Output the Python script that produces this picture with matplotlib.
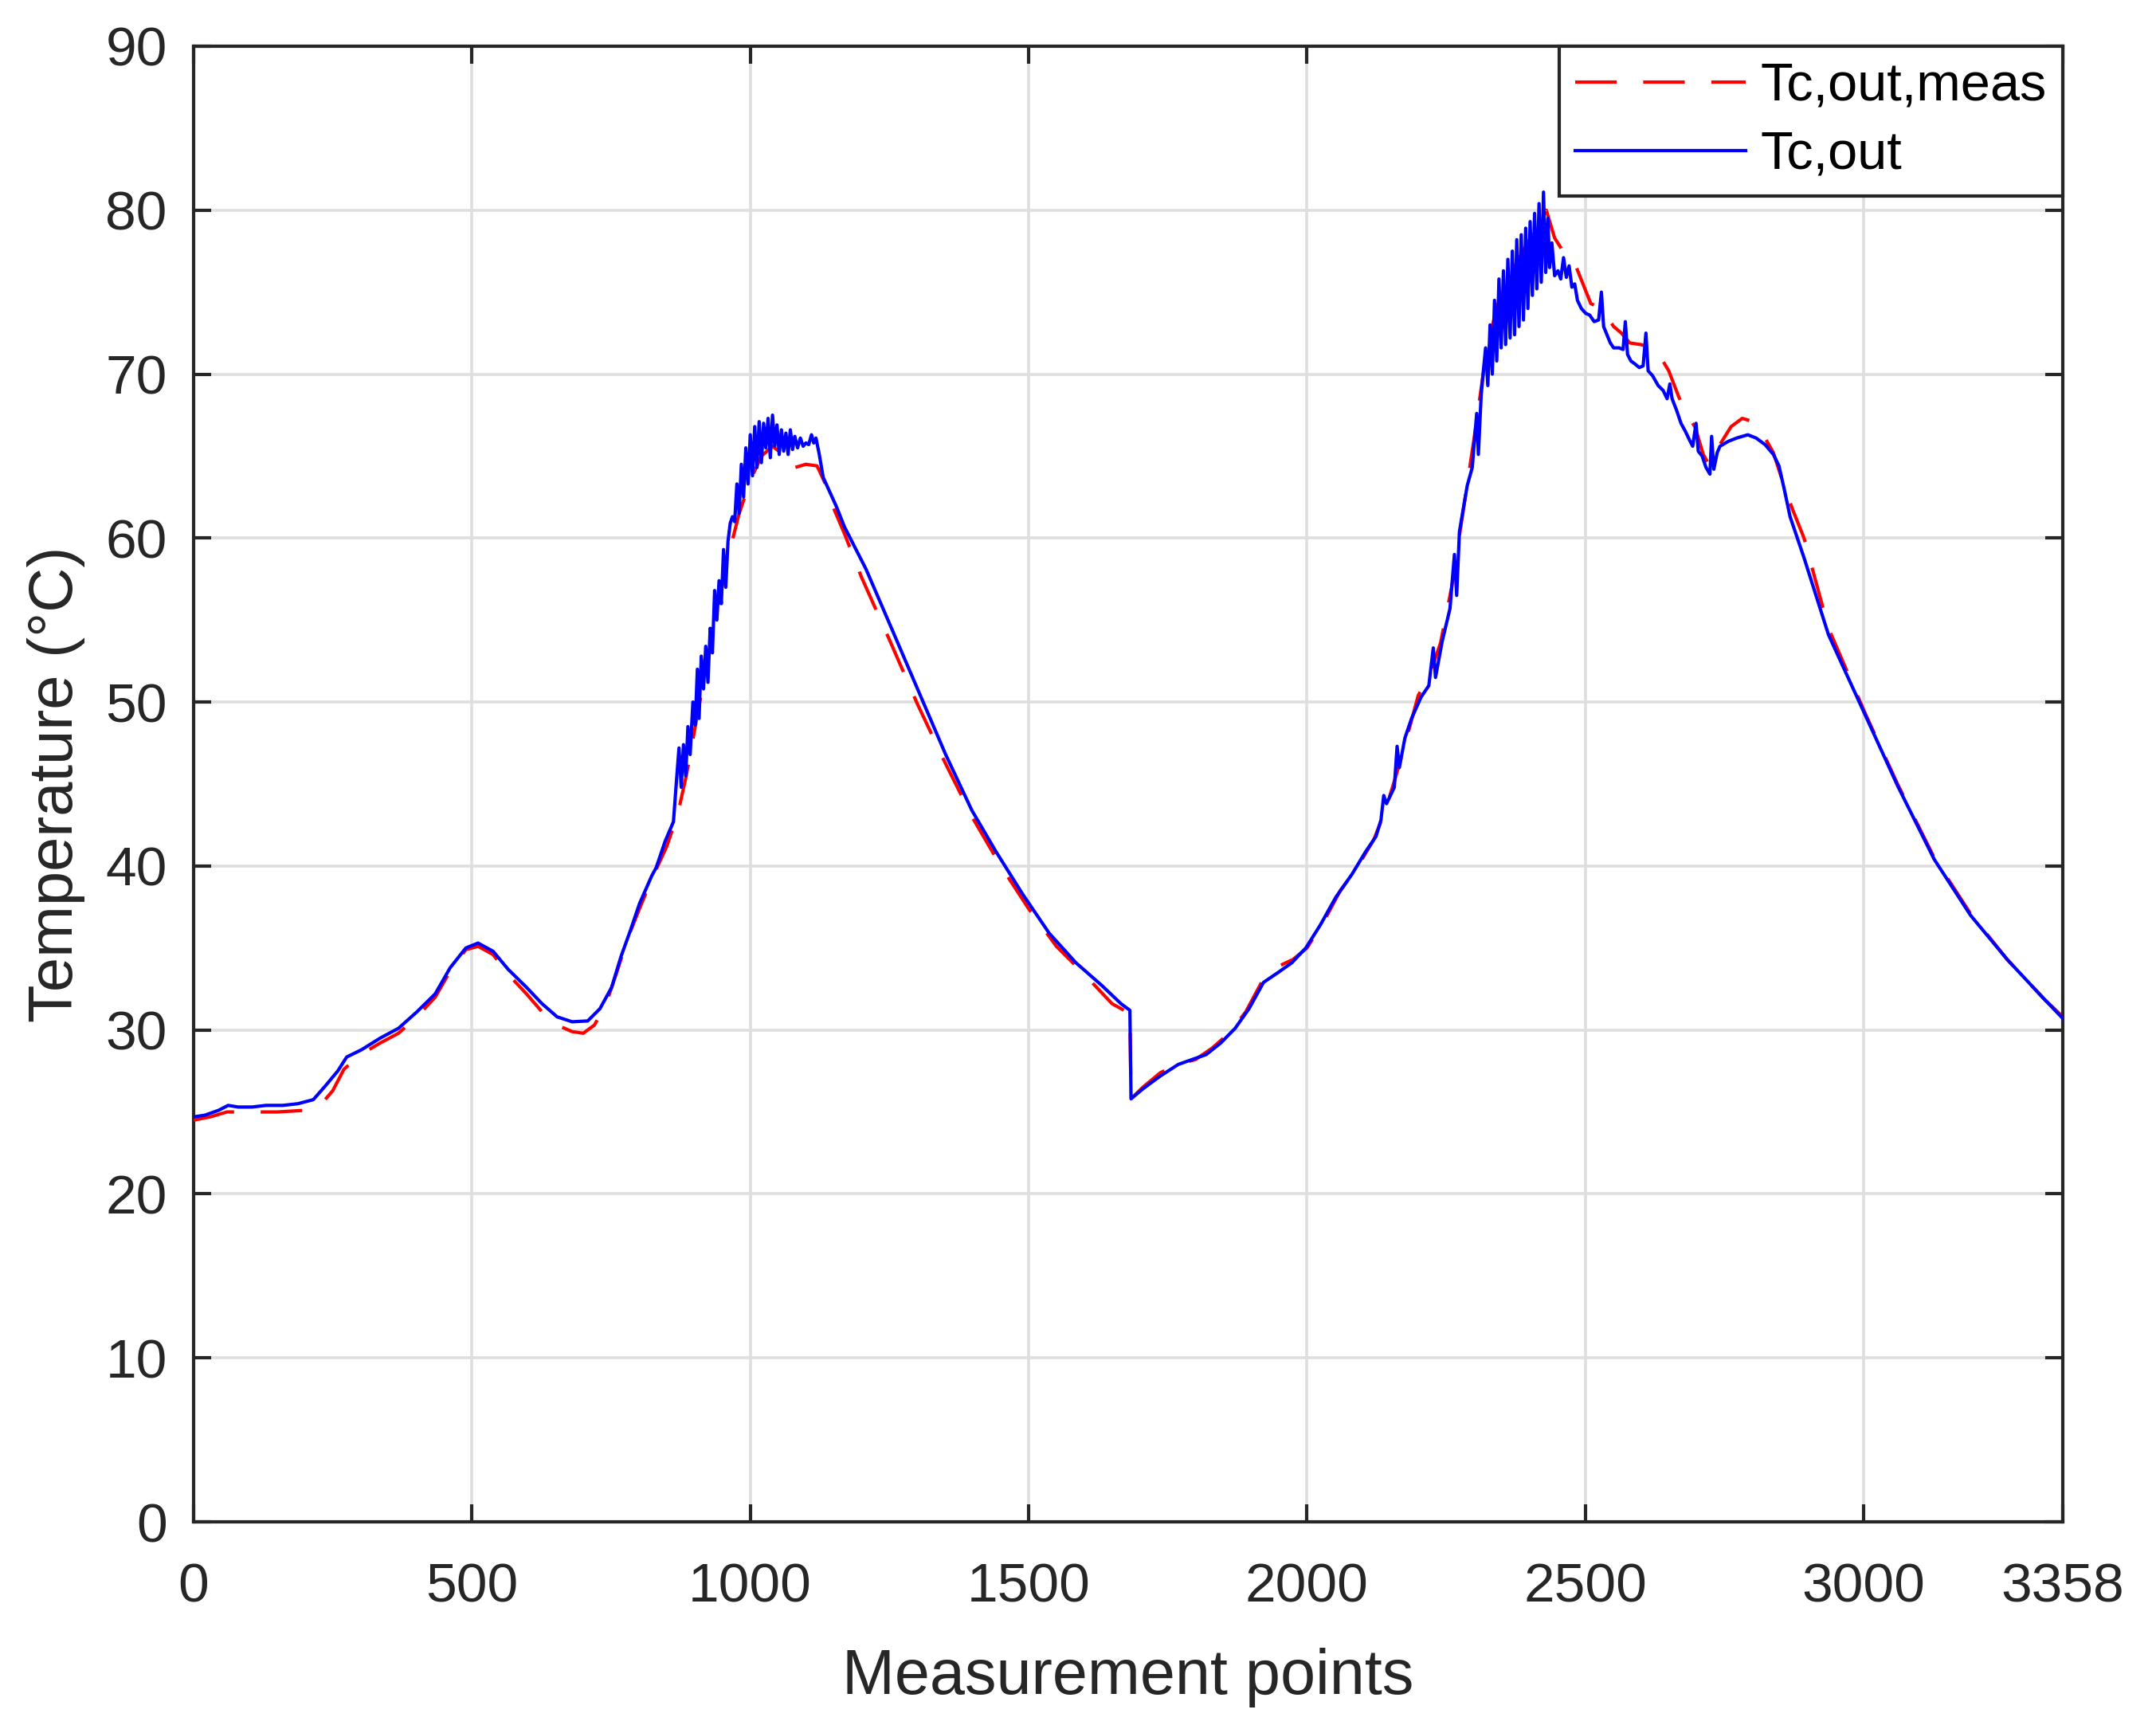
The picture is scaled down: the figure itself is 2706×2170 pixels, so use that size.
import matplotlib
matplotlib.use("Agg")
import matplotlib.pyplot as plt

# ---- data ----
x_sim = [0, 20, 45, 62, 80, 105, 130, 160, 187, 215, 237, 259, 275, 302, 335, 368, 401, 434, 461, 489,
         511, 538, 565, 598, 626, 653, 680, 708, 730, 751, 768, 785, 801, 823, 831, 847, 862,
         867, 872, 876, 880, 884, 888, 892, 897, 901, 905, 908, 912, 916, 920, 924, 928, 932, 936,
         940, 944, 948, 952, 956, 960, 964, 968, 972, 976, 980, 984, 988, 992, 996, 1000, 1004,
         1008, 1012, 1016, 1020, 1024, 1028, 1032, 1036, 1040, 1044, 1048, 1052, 1056, 1060, 1064,
         1068, 1072, 1076, 1080, 1085, 1090, 1095, 1100, 1105, 1110, 1114, 1118, 1124, 1131, 1155,
         1169, 1208, 1255, 1303, 1351, 1398, 1441, 1489, 1537, 1585, 1632, 1666, 1682, 1684, 1705,
         1737, 1769, 1794, 1819, 1845, 1871, 1896, 1922, 1948, 1973, 1998, 2024, 2052, 2081, 2105,
         2124, 2133, 2138, 2143, 2157, 2162, 2166, 2176, 2188, 2205, 2219, 2227, 2231, 2243, 2257,
         2265, 2269, 2274, 2288, 2297, 2305, 2308, 2313, 2317,
         2321, 2325, 2329, 2333, 2337, 2341, 2345, 2349, 2353, 2357, 2361, 2365, 2369, 2373, 2377,
         2381, 2385, 2389, 2393, 2397, 2401, 2405, 2409, 2413, 2417, 2421, 2425, 2429, 2433, 2436,
         2440, 2445, 2451, 2456, 2461, 2466, 2471, 2476, 2481, 2486, 2493, 2501, 2508, 2516, 2524,
         2529, 2533, 2539, 2545, 2551, 2561, 2568, 2572, 2576, 2582, 2590, 2597, 2604, 2609, 2613,
         2621, 2631, 2640, 2647, 2652, 2656, 2664, 2672, 2680, 2687, 2693, 2699, 2703, 2710, 2717,
         2724, 2727, 2731, 2737, 2742, 2757, 2772, 2792, 2807, 2823, 2838, 2848, 2858, 2868, 2878,
         2893, 2937, 3003, 3061, 3127, 3192, 3258, 3324, 3358]
T_sim = [24.7, 24.8, 25.1, 25.4, 25.3, 25.3, 25.4, 25.4, 25.5, 25.75, 26.6, 27.5, 28.35, 28.8, 29.5, 30.1, 31.1, 32.2, 33.8, 35.0,
         35.3, 34.8, 33.7, 32.6, 31.6, 30.8, 30.5, 30.55, 31.3, 32.6, 34.5, 36.1, 37.7, 39.4, 39.9, 41.5, 42.7,
         45.0, 47.2, 44.8, 47.4, 45.5, 48.5, 46.8, 50.0, 48.6, 52.0, 49.0, 52.8, 50.8, 53.4, 51.2, 54.5, 53.0, 56.8,
         55.0, 57.4, 56.0, 59.3, 57.0, 59.8, 60.9, 61.3, 61.0, 63.3, 61.5, 64.5, 62.5, 65.5, 63.3, 66.3, 63.8,
         66.8, 64.3, 67.1, 64.6, 67.0, 65.5, 67.3, 64.9, 67.5, 65.6, 66.9, 65.1, 66.6, 65.3, 66.4,
         65.1, 66.6, 65.4, 66.2, 65.5, 66.1, 65.6, 65.8, 65.7, 66.3, 65.8, 66.1, 65.1, 63.7, 61.9,
         60.7, 58.1, 54.4, 50.6, 46.8, 43.4, 40.9, 38.3, 35.9, 34.1, 32.7, 31.6, 31.2, 25.8, 26.4,
         27.2, 27.9, 28.2, 28.5, 29.2, 30.1, 31.3, 32.9, 33.5, 34.1, 35.0, 36.4, 38.1, 39.5, 40.85,
         41.8, 42.8, 44.3, 43.8, 44.8, 47.3, 46.0, 47.8, 49.0, 50.3, 51.0, 53.3, 51.5, 53.7, 55.7,
         59.0, 56.5, 60.4, 63.2, 64.3, 67.6, 65.1, 68.7, 70.2,
         71.6, 69.3, 73.0, 70.0, 74.5, 70.8, 75.8, 71.6, 76.3, 71.8, 77.0, 72.2, 77.5, 72.4, 78.2,
         72.9, 78.5, 73.3, 78.9, 74.0, 79.3, 74.8, 79.8, 75.2, 80.4, 75.6, 81.1, 76.2, 79.5, 76.5,
         78.0, 76.0, 76.3, 75.8, 77.1, 75.9, 76.6, 75.3, 75.5, 74.5, 74.0, 73.7, 73.6, 73.2, 73.3,
         75.0, 72.9, 72.4, 71.9, 71.6, 71.6, 71.5, 73.2, 71.2, 70.8, 70.6, 70.4, 70.5, 72.5, 70.2,
         69.9, 69.3, 69.0, 68.5, 69.4, 68.5, 67.8, 67.0, 66.5, 66.0, 65.6, 67.0, 65.3, 65.0, 64.3,
         63.9, 66.2, 64.2, 65.2, 65.6, 65.9, 66.1, 66.3, 66.1, 65.7, 65.1, 64.4, 62.9, 61.3, 60.3,
         58.8, 54.1, 49.2, 44.9, 40.4, 37.0, 34.3, 31.9, 30.7]

x_meas = [0, 30, 60, 100, 150, 200, 230, 250, 270, 300, 335, 368, 401, 434, 461, 489, 511, 538, 565, 598,
          626, 653, 680, 700, 720, 740, 760, 780, 801, 823, 850, 870, 885, 900, 920, 940, 960, 980, 1000,
          1020, 1040, 1055, 1065, 1080, 1100, 1120, 1135, 1150, 1170, 1200, 1250, 1300, 1350, 1400, 1450,
          1500, 1550, 1600, 1650, 1682, 1684, 1705, 1737, 1769, 1800, 1830, 1860, 1890, 1920, 1950, 1975,
          2000, 2030, 2060, 2090, 2120, 2140, 2160, 2180, 2200, 2220, 2240, 2260, 2280, 2300, 2320, 2340,
          2360, 2380, 2400, 2420, 2430, 2445, 2460, 2476, 2490, 2510, 2530, 2551, 2565, 2580, 2600, 2621,
          2636, 2650, 2667, 2682, 2697, 2712, 2722, 2740, 2762, 2782, 2802, 2823, 2838, 2860, 2873, 2893,
          2937, 3003, 3061, 3127, 3192, 3258, 3324, 3358]
T_meas = [24.5, 24.7, 25.0, 25.0, 25.0, 25.1, 25.5, 26.3, 27.6, 28.5, 29.2, 29.8, 30.8, 32.0, 33.6, 34.9, 35.1, 34.6, 33.4, 32.2,
          31.1, 30.3, 29.9, 29.8, 30.3, 31.5, 33.5, 35.6, 37.4, 39.2, 41.2, 43.2, 45.5, 48.3, 52.0, 55.5, 58.8, 61.5, 63.5,
          65.0, 65.6, 65.2, 64.4, 64.3, 64.5, 64.4, 63.3, 61.8, 60.2, 57.6, 53.8, 49.9, 46.3, 42.9, 40.0,
          37.4, 35.1, 33.4, 31.6, 31.0, 25.8, 26.5, 27.4, 27.9, 28.2, 28.9, 29.8, 31.1, 33.0, 33.9, 34.3,
          35.0, 36.6, 38.5, 39.9, 41.6, 43.3, 45.5, 47.9, 50.4, 51.6, 53.6, 57.0, 61.5, 66.0, 70.8, 74.0,
          75.7, 77.0, 78.2, 79.5, 80.0, 78.3, 77.5, 77.2, 76.0, 74.3, 74.0, 72.9, 72.5, 71.9, 71.8, 71.6,
          71.0, 70.2, 68.7, 67.5, 66.8, 65.1, 64.5, 65.6, 66.8, 67.3, 67.1, 66.1, 65.2, 62.9, 61.7, 60.0,
          54.5, 49.3, 45.0, 40.5, 37.1, 34.3, 31.9, 30.8]

x_ticks = [0, 500, 1000, 1500, 2000, 2500, 3000, 3358]
y_ticks = [0, 10, 20, 30, 40, 50, 60, 70, 80, 90]
labels = ["Tc,out,meas", "Tc,out"]

# ---- figure ----
TXT = "#262626"
plt.rcParams["font.family"] = ["Liberation Sans", "DejaVu Sans"]
fig = plt.figure(figsize=(13.53, 10.85), dpi=200)
ax = fig.add_axes([0.0898, 0.1198, 0.8670, 0.8535])

lw = 1.5
ax.plot(x_meas, T_meas, color="#ff0000", lw=lw, dashes=(12.5, 8), label=labels[0], zorder=3)
ax.plot(x_sim, T_sim, color="#0000ff", lw=lw, label=labels[1], zorder=4)

ax.set_xlim(0, 3358)
ax.set_ylim(0, 90)
ax.set_xticks(x_ticks)
ax.set_yticks(y_ticks)
ax.grid(True, color="#dedede", lw=1.3, zorder=0)
ax.set_axisbelow(True)

for s in ax.spines.values():
    s.set_color(TXT)
    s.set_linewidth(1.5)
ax.tick_params(axis="both", which="both", direction="in", length=8, width=1.5, color=TXT,
               labelcolor=TXT, labelsize=25, top=True, right=True)
ax.tick_params(axis="y", pad=12)
ax.tick_params(axis="x", pad=18)

ax.set_xlabel("Measurement points", fontsize=28.5, color=TXT, labelpad=16)
ax.set_ylabel("Temperature (°C)", fontsize=28, color=TXT, labelpad=9)

leg = ax.legend(loc="upper right", fontsize=24, frameon=True, fancybox=False, framealpha=1,
                borderaxespad=0, handlelength=3.2, handletextpad=0.29, labelspacing=0.36,
                borderpad=0.3)
leg.get_frame().set_edgecolor(TXT)
leg.get_frame().set_linewidth(1.5)
for t in leg.get_texts():
    t.set_color("black")

fig.savefig("out.png", dpi=200, facecolor="white")
